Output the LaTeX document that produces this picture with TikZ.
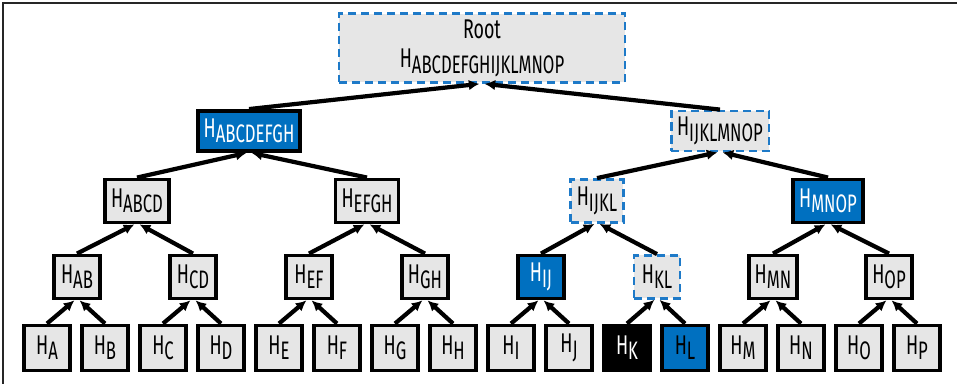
\documentclass[tikz,border=0pt]{standalone}
\usepackage{fontspec}
\setmainfont{Fira Sans}[FakeStretch=0.66]
\usepackage{tikz}
\usetikzlibrary{arrows.meta,positioning,calc}
\usepackage{xcolor}
\definecolor{hashblue}{RGB}{0,112,192}
\definecolor{dashblue}{RGB}{30,122,200}
\definecolor{hashgray}{RGB}{230,230,230}
\newcommand{\hfont}{\fontsize{15.4}{17}\selectfont}
\newcommand{\hsub}[1]{H\raisebox{-3pt}{\fontsize{14.4}{16}\selectfont #1}}
\tikzset{
    hbox/.style={rectangle, draw=black, fill=hashgray, line width=2.2pt, minimum width=0.92cm, minimum height=0.86cm, inner xsep=0.12cm, font=\hfont},
    hblue/.style={hbox, fill=hashblue, text=white},
    hbluek/.style={hbox, fill=hashblue, text=black},
    hblack/.style={hbox, fill=black, text=white},
    hdash/.style={hbox, draw=dashblue, line width=1.6pt, dash pattern=on 4.6pt off 2.8pt},
    link/.style={line width=2.4pt, black, -{Latex[length=6pt,width=6pt]}},
}

\begin{document}
\begin{tikzpicture}
    \useasboundingbox (0,0) rectangle (19.14,7.68);
    \draw[line width=1.1pt, black!85] (0.06,0) -- (0.06,7.62) -- (19.14,7.62);
    % leaves
    \foreach \n/\st [count=\i from 0] in {A/hbox, B/hbox, C/hbox, D/hbox, E/hbox, F/hbox, G/hbox, H/hbox, I/hbox, J/hbox, K/hblack, L/hbluek, M/hbox, N/hbox, O/hbox, P/hbox} {
        \node[\st, minimum height=0.9cm] (\n) at ({0.94+1.16*\i}, 0.72) {\hsub{\n}};
    }
    % pairs
    \foreach \a/\b/\st [count=\k from 0] in {A/B/hbox, C/D/hbox, E/F/hbox, G/H/hbox, I/J/hblue, K/L/hdash, M/N/hbox, O/P/hbox} {
        \node[\st] (\a\b) at ({1.54+2.32*\k}, 2.14) {\hsub{\a\b}};
        \draw[link] (\a.north) -- ([xshift=-1.5pt]\a\b.south);
        \draw[link] (\b.north) -- ([xshift=1.5pt]\a\b.south);
    }
    % quads
    \foreach \a/\b/\st/\x in {AB/CD/hbox/2.74, EF/GH/hbox/7.34, IJ/KL/hdash/11.94, MN/OP/hblue/16.56} {
        \node[\st] (\a\b) at (\x, 3.66) {\hsub{\a\b}};
        \draw[link] (\a.north) -- ([xshift=-1.5pt]\a\b.south);
        \draw[link] (\b.north) -- ([xshift=1.5pt]\a\b.south);
    }
    \node[hblue, minimum height=0.8cm] (ABCDEFGH) at (4.98, 5.06) {\hsub{ABCDEFGH}};
    \node[hdash, minimum height=0.8cm] (IJKLMNOP) at (14.40, 5.06) {\hsub{IJKLMNOP}};
    \foreach \p/\a/\b in {ABCDEFGH/ABCD/EFGH, IJKLMNOP/IJKL/MNOP} {
        \draw[link] (\a.north) -- ([xshift=-1.5pt]\p.south);
        \draw[link] (\b.north) -- ([xshift=1.5pt]\p.south);
    }
    % root
    \node[hdash, minimum width=5.72cm, minimum height=1.14cm, align=center] (root) at (9.64, 6.72) {Root\\\hsub{ABCDEFGHIJKLMNOP}};
    \draw[link] (ABCDEFGH.north) -- ([xshift=-1.5pt]root.south);
    \draw[link] (IJKLMNOP.north) -- ([xshift=1.5pt]root.south);
\end{tikzpicture}
\end{document}
